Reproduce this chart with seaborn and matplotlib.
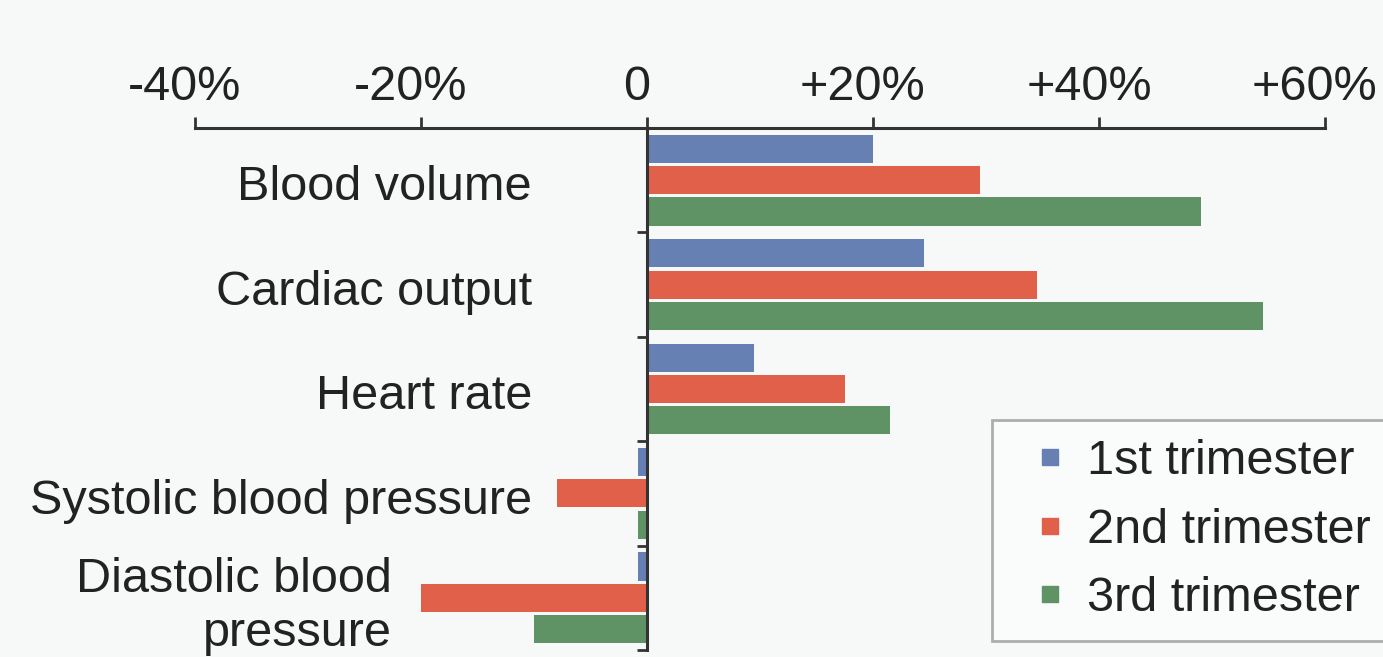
import matplotlib
matplotlib.use("Agg")
import matplotlib.pyplot as plt
from matplotlib.lines import Line2D
from matplotlib.transforms import ScaledTranslation
import seaborn as sns
import pandas as pd

categories = ["Blood volume", "Cardiac output", "Heart rate",
              "Systolic blood pressure", "Diastolic blood\npressure"]
trimesters = ["1st trimester", "2nd trimester", "3rd trimester"]
first_tri = [20, 24.5, 9.5, -0.8, -0.8]
second_tri = [29.5, 34.5, 17.5, -8, -20]
third_tri = [49, 54.5, 21.5, -0.8, -10]
x_ticks = [-40, -20, 0, 20, 40, 60]
x_tick_labels = ["-40%", "-20%", "0", "+20%", "+40%", "+60%"]
colors = ["#6680b4", "#e0604a", "#5f9264"]

rows = []
for t, vals in zip(trimesters, [first_tri, second_tri, third_tri]):
    for c, v in zip(categories, vals):
        rows.append({"category": c, "trimester": t, "value": v})
df = pd.DataFrame(rows)

sns.set_style("white")
plt.rcParams["font.family"] = ["Liberation Sans", "DejaVu Sans"]
FS = 35
bg = "#f7f8f8"
txt = "#222222"

W, H = 1383, 657
fig = plt.figure(figsize=(W / 100, H / 100), dpi=100, facecolor=bg)
ax = fig.add_axes([195 / W, 7 / H, (1325 - 195) / W, (650 - 128) / H])
ax.set_facecolor(bg)

sns.barplot(data=df, x="value", y="category", hue="trimester",
            order=categories, hue_order=trimesters, palette=colors,
            orient="h", width=0.9, gap=0.1, linewidth=0, saturation=1,
            legend=False, ax=ax)

ax.set_xlim(-40, 60)
ax.set_ylim(4.5, -0.5)
ax.set_xlabel("")
ax.set_ylabel("")

# top axis
ax.xaxis.tick_top()
ax.set_xticks(x_ticks)
ax.set_xticklabels(x_tick_labels, fontsize=FS, color=txt)
ax.tick_params(axis="x", top=True, direction="out", length=8, width=2,
               color="#333333", pad=5)
for s in ["bottom", "right"]:
    ax.spines[s].set_visible(False)
ax.spines["top"].set_visible(True)
ax.spines["top"].set_bounds(-40, 60)
ax.spines["top"].set_linewidth(2.2)
ax.spines["top"].set_color("#333333")

# zero line / left spine
ax.spines["left"].set_visible(True)
ax.spines["left"].set_position(("data", 0))
ax.spines["left"].set_bounds(-0.5, 4.5)
ax.spines["left"].set_linewidth(2.2)
ax.spines["left"].set_color("#333333")
boundaries = [i + 0.5 for i in range(len(categories))]
ax.set_yticks(boundaries)
ax.set_yticklabels([])
ax.tick_params(axis="y", left=True, direction="out", length=7, width=2,
               color="#333333")

# shift x tick labels slightly left, as in the reference
shift = ScaledTranslation(-10 / 100, 0, fig.dpi_scale_trans)
for lab in ax.xaxis.get_ticklabels():
    lab.set_transform(lab.get_transform() + shift)

# category labels
extra = {4: 140}
for i, c in enumerate(categories):
    off = 115 + extra.get(i, 0)
    multi = "\n" in c
    ax.annotate(c, xy=(0, i), xycoords="data",
                xytext=(-off * 0.72, -6 if multi else -2), textcoords="offset points",
                ha="right", va="center" if multi else "center_baseline",
                fontsize=FS, color=txt,
                linespacing=1.25, multialignment="right")

handles = [Line2D([], [], marker="s", linestyle="", markersize=12,
                  markerfacecolor=col, markeredgecolor=col) for col in colors]
leg = fig.legend(handles, trimesters, loc="upper left",
                 bbox_to_anchor=(992 / W, 1 - 420 / H), bbox_transform=fig.transFigure,
                 fontsize=FS, frameon=True, fancybox=False, borderaxespad=0,
                 borderpad=0.4, labelspacing=0.48, handlelength=1.6,
                 handletextpad=-0.05, labelcolor=txt)
leg.get_frame().set_edgecolor("#9a9a9a")
leg.get_frame().set_linewidth(2)
leg.get_frame().set_facecolor("#fcfcfc")

fig.savefig("out.png", dpi=100, facecolor=bg)
